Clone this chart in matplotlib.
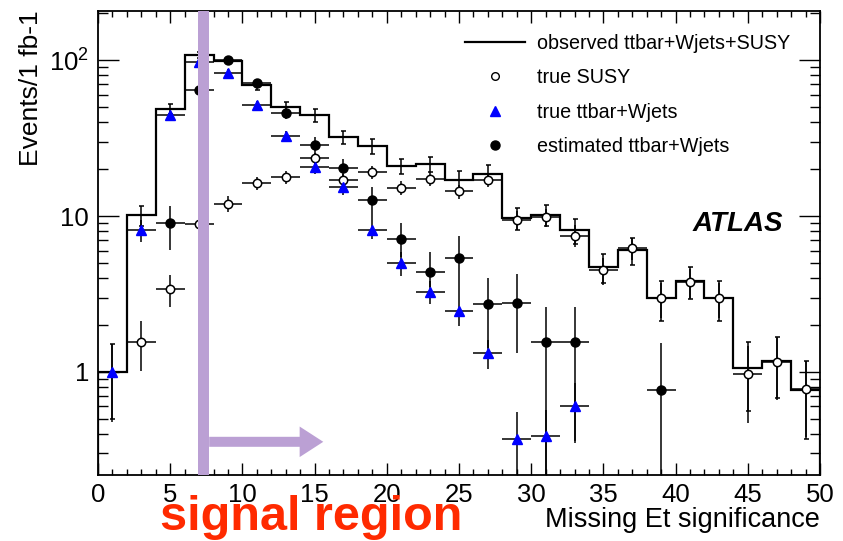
import numpy as np
import matplotlib

matplotlib.use('Agg')
import matplotlib.pyplot as plt
from matplotlib.lines import Line2D
from matplotlib.ticker import FixedLocator, FixedFormatter, MultipleLocator

plt.rcParams['font.family'] = ['Liberation Sans', 'DejaVu Sans']
plt.rcParams['mathtext.fontset'] = 'custom'
plt.rcParams['mathtext.rm'] = 'Liberation Sans'
plt.rcParams['mathtext.it'] = 'Liberation Sans:italic'
plt.rcParams['mathtext.bf'] = 'Liberation Sans:bold'

# Missing Et significance binning (2 units per bin)
bin_edges = [0, 2, 4, 6, 8, 10, 12, 14, 16, 18, 20, 22, 24, 26, 28, 30,
             32, 34, 36, 38, 40, 42, 44, 46, 48, 50]
bin_centers = [1, 3, 5, 7, 9, 11, 13, 15, 17, 19, 21, 23, 25, 27, 29, 31,
               33, 35, 37, 39, 41, 43, 45, 47, 49]
nan = np.nan

# observed ttbar+Wjets+SUSY (events / 1 fb-1)
observed = [1.0, 10.1, 49, 108, 99, 69, 50, 44.4, 32.1, 28.1, 21.0, 21.5, 17.0,
            18.6, 9.7, 10.2, 8.1, 4.7, 6.05, 2.98, 3.83, 2.98, 1.06, 1.18, 0.77]
observed_err = [0.5, 1.5, 3.5, 5, 5, 4.5, 4, 4, 3.3, 3.2, 2.4, 2.4, 2.4,
                2.6, 1.6, 1.6, 1.5, 1.0, 1.2, 0.85, 0.9, 0.85, 0.5, 0.5, 0.4]

# true SUSY
true_susy = [nan, 1.56, 3.4, 8.9, 12.0, 16.3, 17.8, 23.5, 17.0, 19.1, 15.2, 17.4, 14.4,
             17.1, 9.4, 9.8, 7.5, 4.5, 6.2, 2.98, 3.77, 2.98, 0.97, 1.16, 0.78]
true_susy_err = [nan, 0.55, 0.8, 1.2, 1.4, 1.6, 1.7, 2.0, 1.7, 1.8, 1.6, 1.7, 1.5,
                 1.7, 1.3, 1.3, 1.2, 0.9, 1.0, 0.75, 0.8, 0.75, 0.5, 0.5, 0.4]

# true ttbar+Wjets
true_tt = [1.0, 8.1, 44.4, 97, 83, 51.5, 32.6, 20.6, 15.3, 8.1, 5.0, 3.26, 2.46,
           1.32, 0.37, 0.39, 0.60, nan, nan, nan, nan, nan, nan, nan, nan]
true_tt_err = [0.52, 1.3, 3.0, 5, 4.5, 3.5, 2.8, 2.0, 1.7, 1.0, 0.9, 0.55, 0.5,
               0.28, 0.18, 0.18, 0.25, nan, nan, nan, nan, nan, nan, nan, nan]

# estimated ttbar+Wjets
est_tt = [nan, nan, 9.0, 64, 100, 71, 46, 28.5, 20.3, 12.6, 7.1, 4.4, 5.4,
          2.73, 2.77, 1.55, 1.55, nan, nan, 0.76, nan, nan, nan, nan, nan]
est_tt_err_lo = [nan, nan, 2.9, 5, 6, 5, 4, 3.5, 2.8, 3.4, 1.6, 0.9, 2.4,
                 1.3, 1.45, 1.55, 1.19, nan, nan, 0.76, nan, nan, nan, nan, nan]
est_tt_err_hi = [nan, nan, 2.6, 5, 6, 5, 4, 3.5, 2.8, 2.7, 1.9, 1.5, 2.0,
                 1.3, 1.45, 1.05, 1.05, nan, nan, 0.77, nan, nan, nan, nan, nan]

signal_cut = (6.9, 7.7)
purple = '#bba0d4'

fig = plt.figure(figsize=(8.43, 5.41), dpi=100)
ax = fig.add_axes([98 / 843, 66 / 541, 722 / 843, 464 / 541])
ax.set_yscale('log')

# observed histogram with its error bars
ax.stairs(observed, bin_edges, color='black', lw=1.6, zorder=3)
ax.errorbar(bin_centers, observed, yerr=observed_err, fmt='none', ecolor='black',
            elinewidth=1.1, capsize=1.8, capthick=1.1, zorder=3)

ax.errorbar(bin_centers, true_susy, xerr=1, yerr=true_susy_err, fmt='o', ms=6,
            mfc='white', mec='black', mew=1.1, ecolor='black', elinewidth=1.1, zorder=4)
ax.errorbar(bin_centers, true_tt, xerr=1, yerr=true_tt_err, fmt='^', ms=7.5,
            mfc='blue', mec='blue', ecolor='black', elinewidth=1.1, zorder=4)
ax.errorbar(bin_centers, est_tt, xerr=1, yerr=[est_tt_err_lo, est_tt_err_hi], fmt='o',
            ms=6.5, mfc='black', mec='black', ecolor='black', elinewidth=1.1, zorder=4)

# signal region marker
ax.axvspan(signal_cut[0], signal_cut[1], color=purple, lw=0, zorder=6)
ax.annotate('', xy=(15.6, 0.356), xytext=(signal_cut[1], 0.356),
            arrowprops=dict(arrowstyle='simple,head_width=1.1,head_length=0.85,tail_width=0.36',
                            mutation_scale=20, color=purple, lw=0, shrinkA=0, shrinkB=0),
            zorder=6)

ax.set_xlim(0, 50)
ax.set_ylim(0.218, 207)

ax.xaxis.set_major_locator(MultipleLocator(5))
ax.xaxis.set_minor_locator(MultipleLocator(1))
ax.yaxis.set_major_locator(FixedLocator([1, 10, 100]))
ax.yaxis.set_major_formatter(FixedFormatter(['1', '10', r'$\mathregular{10^{2}}$']))
ax.yaxis.set_minor_locator(FixedLocator([0.3, 0.4, 0.5, 0.6, 0.7, 0.8, 0.9,
                                         2, 3, 4, 5, 6, 7, 8, 9,
                                         20, 30, 40, 50, 60, 70, 80, 90, 200]))
ax.tick_params(which='both', direction='in', top=True, right=True, width=1.0,
               labelsize=18.5)
ax.tick_params(axis='x', which='major', length=8.6, pad=6)
ax.tick_params(axis='x', which='minor', length=4.3)
ax.tick_params(axis='y', which='major', length=15, pad=6.5)
ax.tick_params(axis='y', which='minor', length=7.2)
ax.yaxis.set_minor_formatter(plt.NullFormatter())
for s in ax.spines.values():
    s.set_linewidth(1.3)

fig.text(31 / 843, 1 - 10 / 541, 'Events/1 fb-1', rotation=90, ha='center', va='top',
         fontsize=19)
fig.text(820 / 843, 14 / 541, 'Missing Et significance', ha='right', va='baseline',
         fontsize=19.5)

ax.text(41.2, 8.0, 'ATLAS', fontsize=20, fontweight='bold', fontstyle='italic',
        va='baseline', ha='left')

handles = [
    Line2D([], [], color='black', lw=1.6),
    Line2D([], [], ls='none', marker='o', mfc='white', mec='black', ms=5.5, mew=1),
    Line2D([], [], ls='none', marker='^', mfc='blue', mec='blue', ms=7.5),
    Line2D([], [], ls='none', marker='o', mfc='black', mec='black', ms=6.5),
]
labels = ['observed ttbar+Wjets+SUSY', 'true SUSY', 'true ttbar+Wjets',
          'estimated ttbar+Wjets']
ax.legend(handles, labels, loc='upper left', bbox_to_anchor=(465 / 843, 1 - 34 / 541),
          bbox_transform=fig.transFigure, frameon=False, fontsize=14.2,
          handlelength=3.05, handletextpad=0.6, labelspacing=0.78,
          borderaxespad=0, borderpad=0)

fig.text(160 / 843, 11 / 541, 'signal region', color='#ff2a00', fontsize=35,
         fontweight='bold', ha='left', va='baseline')

fig.savefig('out.png', dpi=100)
